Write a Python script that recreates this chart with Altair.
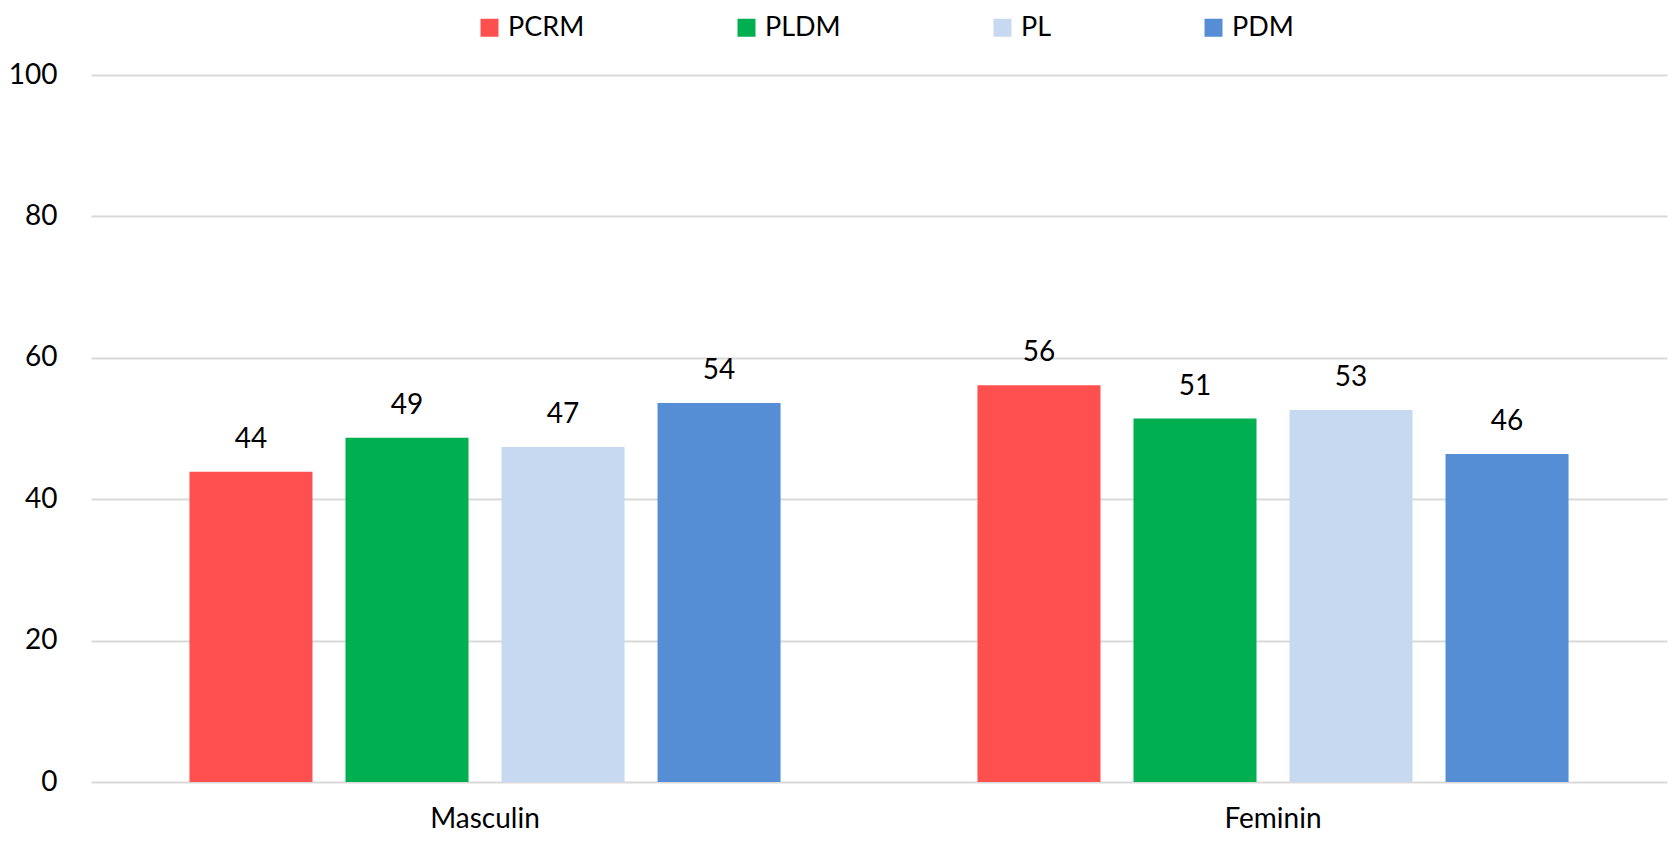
import altair as alt
import pandas as pd

groups = ["Masculin", "Feminin"]
series = ["PCRM", "PLDM", "PL", "PDM"]
masculin = [43.9, 48.7, 47.4, 53.6]
feminin = [56.1, 51.4, 52.6, 46.4]
colors = ["#FF5050", "#00B050", "#C6D9F0", "#558ED5"]
y_ticks = [0, 20, 40, 60, 80, 100]

rows = []
for g, vals in zip(groups, [masculin, feminin]):
    for s, v in zip(series, vals):
        rows.append({"group": g, "series": s, "value": v})
df = pd.DataFrame(rows)

FONT = "Lato"
FS = 28

x = alt.X("group:N", sort=groups, title=None,
          scale=alt.Scale(paddingInner=0.208, paddingOuter=0.104),
          axis=alt.Axis(labelAngle=0, labelFontSize=FS, labelColor="#000000",
                        domain=False, ticks=False, tickSize=0, labelPadding=23,
                        labelFont=FONT))
xo = alt.XOffset("series:N", sort=series,
                 scale=alt.Scale(paddingInner=0.2115, paddingOuter=0.1058))
y = alt.Y("value:Q", title=None,
          scale=alt.Scale(domain=[0, 100], nice=False),
          axis=alt.Axis(values=y_ticks, labelFontSize=FS, labelColor="#000000",
                        domain=False, ticks=False, tickSize=0, labelPadding=34,
                        grid=True, gridColor="#D9D9D9", gridWidth=2,
                        labelFont=FONT))
color = alt.Color("series:N", sort=series,
                  scale=alt.Scale(domain=series, range=colors),
                  legend=alt.Legend(orient="none", legendX=385, legendY=-61,
                                    direction="horizontal", columns=4,
                                    title=None, symbolType="square",
                                    symbolSize=324, symbolStrokeWidth=0,
                                    labelFontSize=27, labelFont=FONT,
                                    labelColor="#000000", labelOffset=5,
                                    columnPadding=148, padding=0))

bars = alt.Chart(df).mark_bar(stroke=None).encode(x=x, xOffset=xo, y=y, color=color)
labels = alt.Chart(df).mark_text(baseline="middle", dy=-32, fontSize=FS,
                                 font=FONT, color="#000000").encode(
    x=alt.X("group:N", sort=groups), xOffset=alt.XOffset("series:N", sort=series),
    y="value:Q", text=alt.Text("value:Q", format=".0f"))

chart = alt.layer(bars, labels).properties(
    width=1576, height=707,
    autosize=alt.AutoSizeParams(type="none"),
    padding={"left": 83, "top": 67, "right": 2, "bottom": 51},
).configure(font=FONT).configure_view(stroke=None)

chart.save("out.html", embed_options={"renderer": "svg", "actions": False})
